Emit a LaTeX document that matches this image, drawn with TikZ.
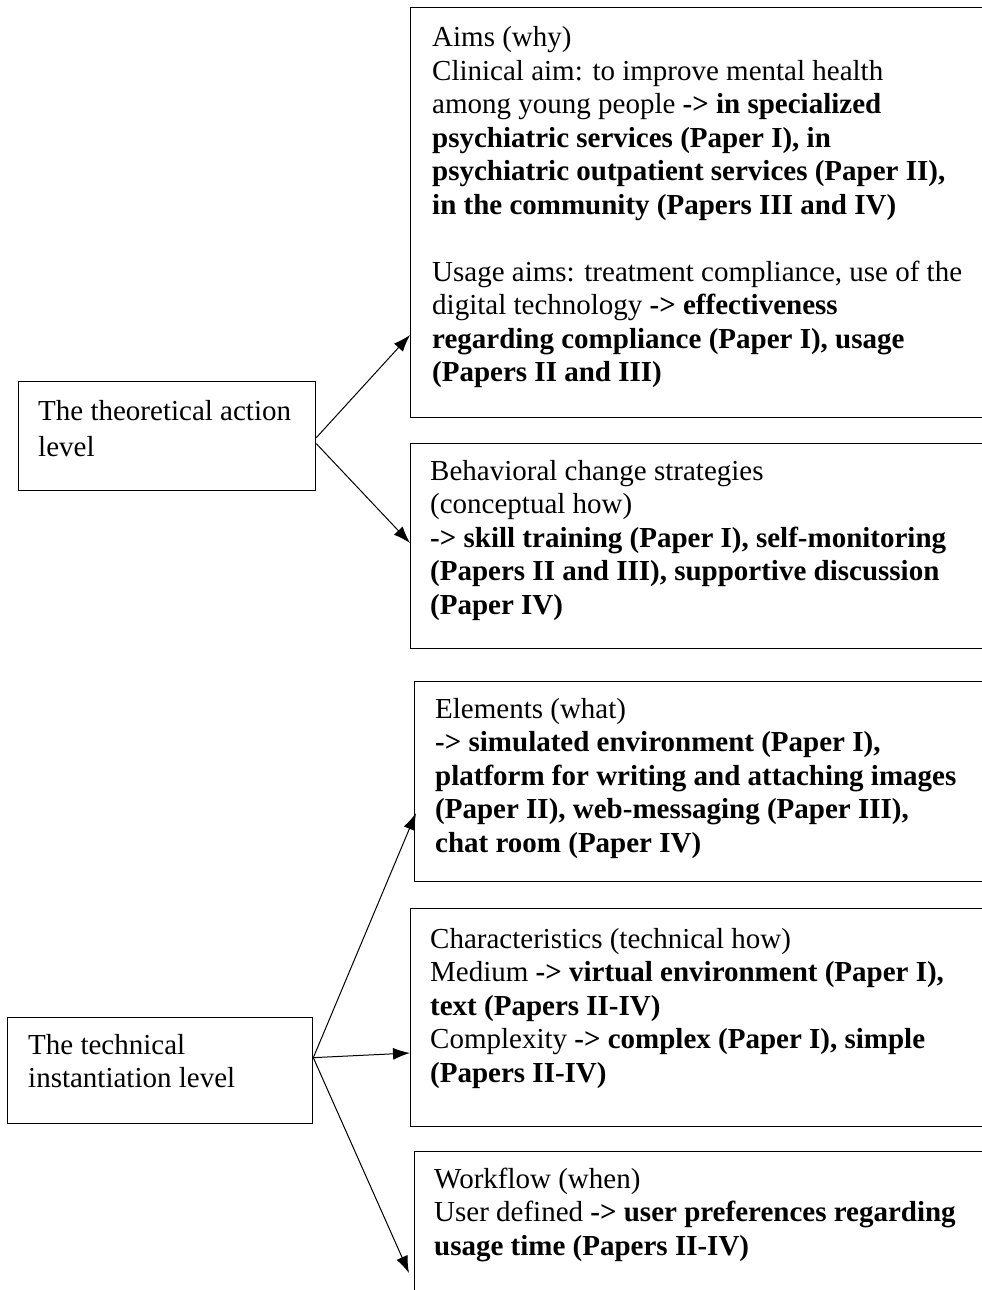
\documentclass[tikz,border=0pt]{standalone}
\usepackage{fontspec}
\setmainfont{Liberation Serif}
\usetikzlibrary{arrows.meta,calc}
\newcommand{\lines}[1]{\parbox[t]{640pt}{\raggedright\fontsize{29}{33.5}\selectfont #1}}
\begin{document}
\begin{tikzpicture}[x=1pt,y=-1pt,
  box/.style={draw, line width=1.3pt, anchor=north west, inner sep=0pt},
  txt/.style={anchor=base west, inner sep=0pt},
  link/.style={line width=1pt, -{Latex[length=17pt,width=12pt]}}]
\useasboundingbox (0,0) rectangle (982,1290);
\clip (0,0) rectangle (982,1290);

% level boxes on the left
\node[box, minimum width=297pt, minimum height=109pt] (theo) at (18,381) {};
\node[box, minimum width=305pt, minimum height=106pt] (tech) at (7,1017) {};

% boxes on the right (they run past the page edge)
\node[box, minimum width=600pt, minimum height=410pt] (aims) at (410,7) {};
\node[box, minimum width=600pt, minimum height=205pt] (behav) at (410,443) {};
\node[box, minimum width=600pt, minimum height=200pt] (elem) at (414,681) {};
\node[box, minimum width=600pt, minimum height=218pt] (charac) at (410,908) {};
\node[box, minimum width=600pt, minimum height=200pt] (flow) at (414,1151) {};

% texts
\node[txt] (theotxt) at (38,420) {\lines{The theoretical action\\[3pt]level}};
\node[txt] (techtxt) at (28,1054) {\lines{The technical\\instantiation level}};

\node[txt] (aimstxt) at (432,47) {\lines{Aims (why)\\
Clinical aim: to improve mental health\\
among young people \textbf{-> in specialized}\\
\textbf{psychiatric services (Paper I), in}\\
\textbf{psychiatric outpatient services (Paper II),}\\
\textbf{in the community (Papers III and IV)}\\[33.5pt]
Usage aims: treatment compliance, use of the\\
digital technology \textbf{-> effectiveness}\\
\textbf{regarding compliance (Paper I), usage}\\
\textbf{(Papers II and III)}}};

\node[txt] (behavtxt) at (430,480) {\lines{Behavioral change strategies\\
(conceptual how)\\
\textbf{-> skill training (Paper I), self-monitoring}\\
\textbf{(Papers II and III), supportive discussion}\\
\textbf{(Paper IV)}}};

\node[txt] (elemtxt) at (435,718) {\lines{Elements (what)\\
\textbf{-> simulated environment (Paper I),}\\
\textbf{platform for writing and attaching images}\\
\textbf{(Paper II), web-messaging (Paper III),}\\
\textbf{chat room (Paper IV)}}};

\node[txt] (charactxt) at (430,948) {\lines{Characteristics (technical how)\\
Medium \textbf{-> virtual environment (Paper I),}\\
\textbf{text (Papers II-IV)}\\
Complexity \textbf{-> complex (Paper I), simple}\\
\textbf{(Papers II-IV)}}};

\node[txt] (flowtxt) at (434,1188) {\lines{Workflow (when)\\
User defined \textbf{-> user preferences regarding}\\
\textbf{usage time (Papers II-IV)}}};

% connectors
\draw[link] ($(theo.east)+(0,1.5)$) -- ($(aims.north west)+(0,328)$);
\draw[link] ($(theo.east)+(0,7.5)$) -- ($(behav.north west)+(0,100)$);
\draw[link] ($(tech.east)+(0,-13)$) -- ($(elem.north west)+(2,132)$);
\draw[link] ($(tech.east)+(0,-13)$) -- ($(charac.north west)+(0,145)$);
\draw[link] ($(tech.east)+(0,-13)$) -- ($(flow.north west)+(-5,122)$);
\end{tikzpicture}
\end{document}
